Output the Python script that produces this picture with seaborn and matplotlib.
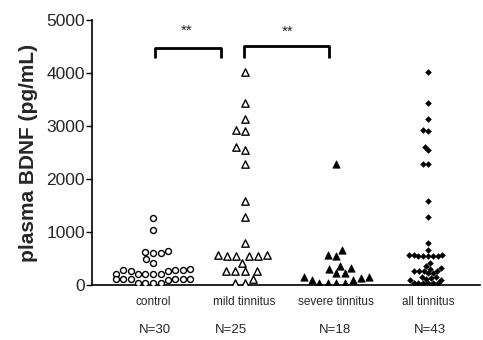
import matplotlib
matplotlib.use("Agg")
import matplotlib.pyplot as plt
import seaborn as sns
import pandas as pd
import warnings
warnings.filterwarnings("ignore")

categories = ["control", "mild tinnitus", "severe tinnitus", "all tinnitus"]
n_labels = ["N=30", "N=25", "N=18", "N=43"]

control = [1270, 1030, 640, 610, 600, 630, 490, 420,
           300, 290, 280, 280, 270, 260,
           210, 210, 200, 200, 200,
           110, 110, 110, 110, 110, 110, 100,
           40, 40, 40, 40]
mild = [4010, 3430, 3130, 2930, 2910, 2600, 2540, 2280, 1590, 1280, 800,
        560, 560, 550, 550, 540, 540, 420, 270, 270, 260, 260, 120, 40, 40]
severe = [2290, 660, 560, 550, 360, 330, 300, 230, 220, 150, 150, 140,
          100, 100, 40, 40, 40, 40]
all_tinnitus = mild + severe

sig_pairs = [(0.02, 0.74, 4280, 4470), (0.99, 1.92, 4280, 4510)]
sig_text = [(0.37, 4800, "**"), (1.47, 4780, "**")]

sns.set_style("white")
plt.rcParams["font.family"] = ["Liberation Sans", "DejaVu Sans"]

fig = plt.figure(figsize=(4.83, 3.40), dpi=100)
ax = fig.add_axes([92/483, 55/340, 388/483, 265/340])

groups = [control, mild, severe, all_tinnitus]
styles = [
    dict(marker="o", color="white", edgecolor="black", linewidth=1.0, size=4.3),
    dict(marker="^", color="white", edgecolor="black", linewidth=1.0, size=5.3),
    dict(marker="^", color="black", edgecolor="black", linewidth=0.5, size=5.3),
    dict(marker="D", color="black", edgecolor="black", linewidth=0.3, size=3.0),
]
for cat, vals, st in zip(categories, groups, styles):
    df = pd.DataFrame({"group": [cat] * len(vals), "value": vals})
    sns.swarmplot(data=df, x="group", y="value", order=categories, ax=ax,
                  warn_thresh=1, **st)

ax.set_xlim(-0.665, 3.567)
ax.set_ylim(0, 5000)
ax.set_yticks([0, 1000, 2000, 3000, 4000, 5000])
ax.tick_params(axis="y", direction="out", length=4, width=1, labelsize=12.5,
               left=True, pad=1, color="black")
ax.tick_params(axis="x", length=0, labelsize=8.5, pad=8)
ax.set_xlabel("")
ax.set_ylabel("plasma BDNF (pg/mL)", fontsize=15, fontweight="bold", labelpad=6)
for s in ["top", "right"]:
    ax.spines[s].set_visible(False)
for s in ["left", "bottom"]:
    ax.spines[s].set_color("black")
    ax.spines[s].set_linewidth(1.2)

for x0, x1, ylo, yhi in sig_pairs:
    ax.plot([x0, x0, x1, x1], [ylo, yhi, yhi, ylo], color="black", lw=2,
            clip_on=False, solid_capstyle="butt")
for x, y, t in sig_text:
    ax.text(x, y, t, ha="center", va="center", fontsize=11, clip_on=False)

n_x = [0.02, 0.85, 1.98, 3.02]
for x, t in zip(n_x, n_labels):
    ax.text(x, -850, t, ha="center", va="center", fontsize=9.5, clip_on=False)

fig.savefig("out.png", dpi=100)
